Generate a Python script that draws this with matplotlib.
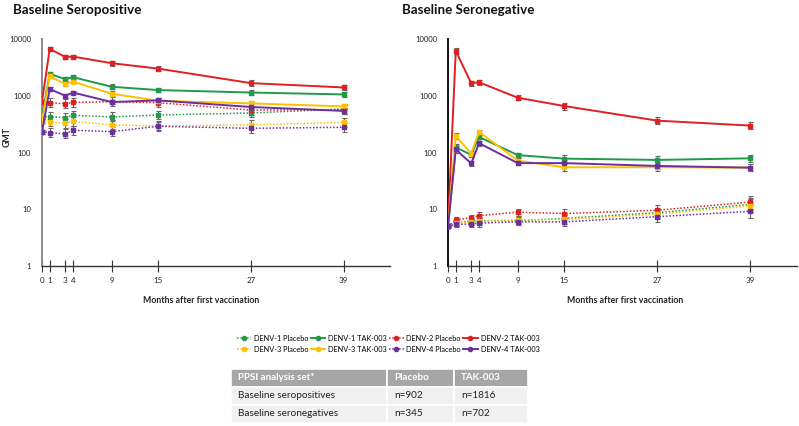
import matplotlib
matplotlib.use("Agg")
import matplotlib.pyplot as plt
from matplotlib.lines import Line2D
from matplotlib.patches import Rectangle
import numpy as np

plt.rcParams['font.family'] = ['Lato', 'DejaVu Sans']

months = [0, 1, 3, 4, 9, 15, 27, 39]
serotypes = ["DENV-1", "DENV-2", "DENV-3", "DENV-4"]
colors = ["#1e9a48", "#e02020", "#ffc000", "#6b2f9e"]

# Baseline seropositive GMT values
pos_tak = {
    "DENV-1": [430, 2430, 1960, 2130, 1440, 1260, 1140, 1055],
    "DENV-2": [790, 6700, 4830, 4900, 3750, 3010, 1670, 1400],
    "DENV-3": [364, 2210, 1600, 1780, 1085, 817, 733, 650],
    "DENV-4": [231, 1310, 1000, 1140, 775, 828, 634, 540],
}
pos_placebo = {
    "DENV-1": [430, 428, 411, 452, 423, 458, 497, 583],
    "DENV-2": [780, 754, 724, 762, 785, 754, 560, 568],
    "DENV-3": [364, 350, 327, 355, 306, 294, 306, 341],
    "DENV-4": [231, 224, 213, 247, 233, 290, 267, 278],
}
# Baseline seronegative GMT values
neg_tak = {
    "DENV-1": [5, 123, 91, 188, 90, 78, 74, 79],
    "DENV-2": [5, 6150, 1660, 1730, 923, 658, 364, 298],
    "DENV-3": [5, 195, 96, 230, 72, 55, 55, 54],
    "DENV-4": [5, 113, 64, 146, 65, 65, 58, 54],
}
neg_placebo = {
    "DENV-1": [5, 5.8, 6.2, 6.3, 6.3, 6.9, 8.7, 12.2],
    "DENV-2": [5, 6.5, 7.1, 7.7, 8.9, 8.4, 9.6, 13.4],
    "DENV-3": [5, 5.7, 6.0, 6.1, 6.5, 6.6, 8.2, 11.5],
    "DENV-4": [5, 5.4, 5.5, 5.7, 6.0, 6.0, 7.4, 9.2],
}
# approximate 95% CI multiplicative factors
pos_tak_ci = [1.08, 1.08, 1.08, 1.08, 1.1, 1.1, 1.12, 1.12]
pos_placebo_ci = [1.08, 1.2, 1.2, 1.2, 1.2, 1.2, 1.2, 1.2]
neg_tak_ci = [1.0, 1.15, 1.1, 1.1, 1.1, 1.15, 1.15, 1.15]
neg_placebo_ci = [1.0, 1.12, 1.12, 1.15, 1.15, 1.18, 1.22, 1.3]

xtick_vals = [0, 1, 3, 4, 9, 15, 27, 39]
ytick_vals = [1, 10, 100, 1000, 10000]
titles = ["Baseline Seropositive", "Baseline Seronegative"]
xlabel = "Months after first vaccination"
ylabel = "GMT"

table_header = ["PPSI analysis set*", "Placebo", "TAK-003"]
table_rows = [["Baseline seropositives", "n=902", "n=1816"],
              ["Baseline seronegatives", "n=345", "n=702"]]

W, H = 799, 426
fig = plt.figure(figsize=(W / 100, H / 100), dpi=100)


def fx(px):
    return px / W


def fy(py):
    return 1 - py / H


panels = [
    (42, 390, pos_tak, pos_placebo, pos_tak_ci, pos_placebo_ci, "#8c8c8c", titles[0], 13, 201),
    (448, 797, neg_tak, neg_placebo, neg_tak_ci, neg_placebo_ci, "#111111", titles[1], 402, 625),
]
ax_top, ax_bot = 39, 266
for (x0, x1, tak, plc, tak_ci, plc_ci, spcol, title, tx, xlc) in panels:
    ax = fig.add_axes([fx(x0), fy(ax_bot), fx(x1 - x0), (ax_bot - ax_top) / H])
    ax.set_yscale("log")
    ax.set_ylim(1, 10000)
    ax.set_xlim(0, 45)
    for s, c in zip(serotypes, colors):
        v = np.array(plc[s], dtype=float)
        f = np.array(plc_ci)
        ax.errorbar(months, v, yerr=[v - v / f, v * f - v], color=c, ls=(0, (1, 1.2)),
                    lw=1.1, marker="s", ms=3, ecolor="#666666", elinewidth=0.8,
                    capsize=1.8, capthick=0.8, zorder=2)
    for s, c in zip(serotypes, colors):
        v = np.array(tak[s], dtype=float)
        f = np.array(tak_ci)
        ax.errorbar(months, v, yerr=[v - v / f, v * f - v], color=c, ls="-",
                    lw=1.4, marker="s", ms=3, ecolor="#666666", elinewidth=0.8,
                    capsize=1.8, capthick=0.8, zorder=3)
    for sp in ["top", "right"]:
        ax.spines[sp].set_visible(False)
    ax.spines["left"].set_color(spcol)
    ax.spines["left"].set_linewidth(1.4)
    ax.spines["bottom"].set_color("#333333")
    ax.spines["bottom"].set_linewidth(1.0)
    ax.set_yticks(ytick_vals)
    ax.set_yticklabels([str(v) for v in ytick_vals])
    ax.yaxis.set_minor_locator(matplotlib.ticker.NullLocator())
    ax.tick_params(axis="y", length=0, pad=8, labelsize=5.5, labelcolor="#222222")
    ax.set_xticks(xtick_vals)
    ax.set_xticklabels([str(v) for v in xtick_vals])
    ax.tick_params(axis="x", direction="inout", length=8, width=0.8, color="#333333",
                   pad=4, labelsize=5.8, labelcolor="#222222")
    ax.set_xlabel(xlabel, fontsize=6.3, fontweight="bold", color="#222222")
    ax.xaxis.set_label_coords((xlc - x0) / (x1 - x0), -0.13)
    ax.set_facecolor("none")
    fig.text(fx(tx), fy(10), title, fontsize=9.6, fontweight="bold", ha="left", va="center",
             color="#111111")

fig.text(fx(7), fy(137), ylabel, rotation=90, fontsize=6.3, fontweight="bold",
         ha="center", va="center", color="#222222")

# Legend
handles = []
labels = []
for i, s in enumerate(serotypes):
    handles.append(Line2D([], [], color=colors[i], ls=(0, (1, 1.2)), lw=1.1, marker="o", ms=3))
    labels.append(f"{s} Placebo")
    handles.append(Line2D([], [], color=colors[i], ls="-", lw=1.4, marker="o", ms=3))
    labels.append(f"{s} TAK-003")
order = [0, 4, 1, 5, 2, 6, 3, 7]
fig.legend([handles[i] for i in order], [labels[i] for i in order], ncol=4,
           loc="center", bbox_to_anchor=(fx(388), fy(344)), frameon=False,
           fontsize=5.3, handlelength=2.0, columnspacing=0.25, handletextpad=0.4,
           labelspacing=0.55, borderpad=0)

# Table
col_x = [231, 387, 454, 528]
row_y = [369, 387, 405, 423]
for r in range(3):
    for c in range(3):
        x0, x1 = col_x[c], col_x[c + 1]
        y0, y1 = row_y[r], row_y[r + 1]
        fc = "#a6a6a6" if r == 0 else "#f0f0f0"
        fig.patches.append(Rectangle((fx(x0), fy(y1)), fx(x1 - x0), (y1 - y0) / H,
                                     transform=fig.transFigure, facecolor=fc,
                                     edgecolor="white", lw=1.2))
        if r == 0:
            txt = table_header[c]
            fig.text(fx(x0 + 7), fy((y0 + y1) / 2), txt, fontsize=7, fontweight="bold",
                     color="white", ha="left", va="center")
        else:
            txt = table_rows[r - 1][c]
            fig.text(fx(x0 + 7), fy((y0 + y1) / 2), txt, fontsize=7.2,
                     color="#222222", ha="left", va="center")

fig.savefig("out.png", dpi=100)
